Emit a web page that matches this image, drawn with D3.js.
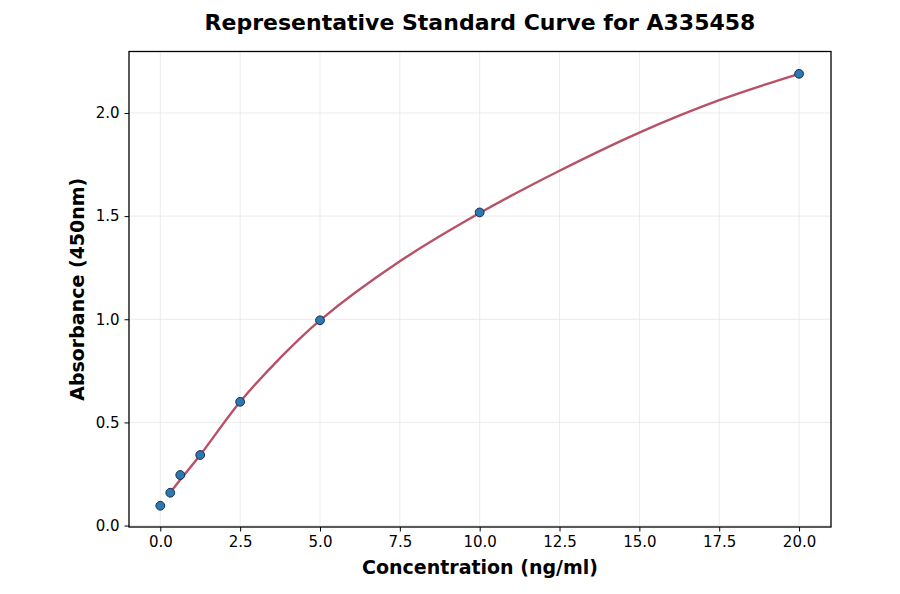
<!DOCTYPE html>
<html>
<head>
<meta charset="utf-8">
<script src="https://cdn.jsdelivr.net/npm/d3@7"></script>
<style>
  body { margin: 0; background: #fff; }
  svg { font-family: "DejaVu Sans", sans-serif; }
</style>
</head>
<body>
<svg id="chart" width="900" height="594"></svg>
<script>
// Standard points (concentration in ng/ml, absorbance at 450nm)
const concentrations = [0, 0.3125, 0.625, 1.25, 2.5, 5, 10, 20];
const absorbances = [0.096, 0.159, 0.245, 0.342, 0.600, 0.995, 1.518, 2.190];

// Fitted curve
const curveX = [0.3125, 0.625, 1.25, 2.5, 3.75, 5, 7.5, 10, 12.5, 15, 17.5, 20];
const curveY = [0.160, 0.222, 0.342, 0.600, 0.812, 0.995, 1.281, 1.515, 1.720, 1.905, 2.062, 2.190];

const xTicks = [0, 2.5, 5, 7.5, 10, 12.5, 15, 17.5, 20];
const yTicks = [0, 0.5, 1.0, 1.5, 2.0];

const margin = { top: 51.5, right: 69, bottom: 67, left: 129 };
const width = 900, height = 594;
const innerWidth = width - margin.left - margin.right;
const innerHeight = height - margin.top - margin.bottom;

const svg = d3.select("#chart");

const xScale = d3.scaleLinear().domain([-0.98, 21.0]).range([0, innerWidth]);
const yScale = d3.scaleLinear().domain([-0.007, 2.298]).range([innerHeight, 0]);

const g = svg.append("g")
    .attr("transform", `translate(${margin.left}, ${margin.top})`);

// Grid
g.append("g").selectAll("line").data(xTicks).join("line")
    .attr("x1", d => xScale(d)).attr("x2", d => xScale(d))
    .attr("y1", 0).attr("y2", innerHeight)
    .attr("stroke", "#e6e6e6").attr("stroke-width", 0.8);
g.append("g").selectAll("line").data(yTicks).join("line")
    .attr("y1", d => yScale(d)).attr("y2", d => yScale(d))
    .attr("x1", 0).attr("x2", innerWidth)
    .attr("stroke", "#e6e6e6").attr("stroke-width", 0.8);

// Axes
const xAxis = g.append("g")
    .attr("transform", `translate(0, ${innerHeight})`)
    .call(d3.axisBottom(xScale).tickValues(xTicks).tickFormat(d3.format(".1f")).tickSize(4.5).tickPadding(5));
const yAxis = g.append("g")
    .call(d3.axisLeft(yScale).tickValues(yTicks).tickFormat(d3.format(".1f")).tickSize(4.5).tickPadding(5));

[xAxis, yAxis].forEach(a => {
    a.select(".domain").remove();
    a.selectAll("line").attr("stroke", "#000").attr("stroke-width", 1);
    a.selectAll("text").attr("font-size", 15).attr("fill", "#000")
        .attr("font-family", "DejaVu Sans");
});

// Frame
g.append("rect")
    .attr("width", innerWidth).attr("height", innerHeight)
    .attr("fill", "none").attr("stroke", "#000").attr("stroke-width", 1.3);

// Fitted line
const line = d3.line()
    .x(d => xScale(d[0]))
    .y(d => yScale(d[1]))
    .curve(d3.curveCatmullRom.alpha(0.5));

g.append("path")
    .datum(curveX.map((x, i) => [x, curveY[i]]))
    .attr("fill", "none")
    .attr("stroke", "#b85068")
    .attr("stroke-width", 2.4)
    .attr("d", line);

// Points
g.append("g").selectAll("circle")
    .data(concentrations.map((c, i) => [c, absorbances[i]]))
    .join("circle")
    .attr("cx", d => xScale(d[0]))
    .attr("cy", d => yScale(d[1]))
    .attr("r", 4.4)
    .attr("fill", "#2a78b4")
    .attr("stroke", "#1c2f45")
    .attr("stroke-width", 1);

// Title and labels
svg.append("text")
    .attr("x", margin.left + innerWidth / 2).attr("y", 30)
    .attr("text-anchor", "middle")
    .attr("font-size", 22).attr("font-weight", "bold")
    .text("Representative Standard Curve for A335458");

svg.append("text")
    .attr("x", margin.left + innerWidth / 2).attr("y", 574)
    .attr("text-anchor", "middle")
    .attr("font-size", 19).attr("font-weight", "bold")
    .text("Concentration (ng/ml)");

svg.append("text")
    .attr("transform", `translate(84, ${margin.top + innerHeight / 2}) rotate(-90)`)
    .attr("text-anchor", "middle")
    .attr("font-size", 19).attr("font-weight", "bold")
    .text("Absorbance (450nm)");
</script>
</body>
</html>
